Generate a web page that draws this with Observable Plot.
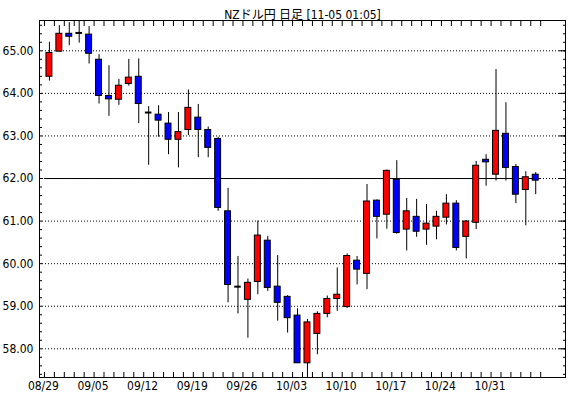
<!DOCTYPE html>
<html><head><meta charset="utf-8">
<script src="https://cdn.jsdelivr.net/npm/d3@7"></script>
<script src="https://cdn.jsdelivr.net/npm/@observablehq/plot@0.6"></script>
<style>body{margin:0;background:#fff}</style>
</head><body><div id="chart"></div>
<script>
const title = "NZドル円 日足 [11-05 01:05]";
const dates = [
  "08/29","08/30","08/31","09/01","09/02",
  "09/05","09/06","09/07","09/08","09/09",
  "09/12","09/13","09/14","09/15","09/16",
  "09/19","09/20","09/21","09/22","09/23",
  "09/26","09/27","09/28","09/29","09/30",
  "10/03","10/04","10/05","10/06","10/07",
  "10/10","10/11","10/12","10/13","10/14",
  "10/17","10/18","10/19","10/20","10/21",
  "10/24","10/25","10/26","10/27","10/28",
  "10/31","11/01","11/02","11/03","11/04"
];
const open = [
  64.39,64.98,65.40,65.42,65.38, 64.79,63.94,63.85,64.22,64.39,
  63.55,63.50,63.29,62.91,63.14, 63.43,63.14,62.93,61.23,59.46,
  59.15,59.57,60.54,59.46,59.22, 58.78,57.66,58.35,58.82,59.17,
  58.98,60.07,59.76,61.48,61.15, 61.97,60.80,61.10,60.80,60.87,
  61.08,61.41,60.63,60.96,62.44, 62.09,63.05,62.27,61.73,62.09
];
const high = [
  65.20,65.59,65.66,65.70,65.57, 64.91,64.65,64.33,64.80,64.81,
  63.69,63.71,63.55,63.55,64.08, 63.74,63.21,62.97,61.77,60.17,
  59.64,61.00,60.64,60.19,59.25, 58.94,58.69,58.87,59.24,59.90,
  60.23,60.17,61.86,61.50,62.20, 62.42,61.53,61.51,61.39,61.23,
  61.62,61.48,61.01,62.40,62.56, 64.56,63.78,62.33,62.16,62.14
];
const low = [
  64.29,64.97,65.12,65.18,64.69, 63.75,63.46,63.72,64.17,63.29,
  62.31,62.97,62.56,62.25,63.01, 62.49,62.49,61.23,59.08,58.82,
  58.25,59.27,59.35,58.65,58.37, 57.66,57.30,57.86,58.73,58.88,
  58.95,59.50,59.39,60.58,60.81, 60.69,60.30,60.62,60.43,60.56,
  60.91,60.30,60.11,60.80,61.82, 61.94,61.94,61.41,60.89,61.62
];
const close = [
  64.95,65.40,65.33,65.42,64.93, 63.94,63.86,64.18,64.37,63.75,
  63.55,63.36,62.91,63.09,63.66, 63.14,62.72,61.31,59.50,59.46,
  59.55,60.66,59.43,59.08,58.72, 57.66,58.62,58.82,59.17,59.27,
  60.18,59.86,61.46,61.10,62.18, 60.72,61.23,60.75,60.94,61.10,
  61.41,60.37,60.99,62.30,62.38, 63.12,62.25,61.62,62.03,61.95
];
const labelDates = ["08/29","09/05","09/12","09/19","09/26","10/03","10/10","10/17","10/24","10/31"];
const yMajor = [58, 59, 60, 61, 62, 63, 64, 65];
const refLevel = 62.00;

const data = dates.map((d, i) => ({i, date: d, open: open[i], high: high[i], low: low[i], close: close[i]}));
const bodies = data.filter(d => d.open !== d.close);
const dojis = data.filter(d => d.open === d.close);
const labelIdx = labelDates.map(d => dates.indexOf(d));
const dayTicks = d3.range(0, dates.length + 1).map(k => k - 0.5);
const yMinor = d3.range(287, 329).map(k => k / 5);
const font = "'Liberation Sans Narrow', 'Arial Narrow', 'DejaVu Sans Condensed', 'Noto Sans CJK JP', sans-serif";

const chart = Plot.plot({
  width: 570,
  height: 398,
  marginLeft: 39,
  marginRight: 5,
  marginTop: 20,
  marginBottom: 21,
  style: {fontFamily: font, fontSize: "12px", background: "white", color: "black"},
  x: {domain: [-1, 52]},
  y: {domain: [57.326, 65.712]},
  color: {type: "identity"},
  marks: [
    Plot.ruleY(yMajor, {stroke: "black", strokeDasharray: "1,2"}),
    Plot.ruleY([refLevel], {x1: dayTicks[0], x2: dayTicks[dayTicks.length - 1], stroke: "black"}),
    Plot.ruleX(data, {x: "i", y1: "low", y2: "high", stroke: "black", clip: true}),
    Plot.rect(bodies, {
      x1: d => d.i - 0.3, x2: d => d.i + 0.3, y1: "open", y2: "close",
      fill: d => d.close > d.open ? "#ff0000" : "#0000ff",
      stroke: "black", strokeWidth: 1, clip: true
    }),
    Plot.ruleY(dojis, {y: "close", x1: d => d.i - 0.33, x2: d => d.i + 0.33, stroke: "black", strokeWidth: 2}),
    Plot.frame({stroke: "black"}),
    Plot.axisX({anchor: "bottom", ticks: dayTicks, tickSize: -5, tickFormat: () => "", label: null}),
    Plot.axisX({anchor: "top", ticks: dayTicks, tickSize: -5, tickFormat: () => "", label: null}),
    Plot.axisX({anchor: "bottom", ticks: labelIdx, tickSize: 0, tickPadding: 4, dx: -6, tickFormat: i => dates[i], label: null, fontSize: 12}),
    Plot.axisY({anchor: "left", ticks: yMinor, tickSize: -3, tickFormat: () => "", label: null}),
    Plot.axisY({anchor: "right", ticks: yMinor, tickSize: -3, tickFormat: () => "", label: null}),
    Plot.axisY({anchor: "right", ticks: yMajor, tickSize: -7, tickFormat: () => "", label: null}),
    Plot.axisY({anchor: "left", ticks: yMajor, tickSize: 0, tickPadding: 6, tickFormat: d => d.toFixed(2), label: null, fontSize: 12}),
    Plot.text([title], {frameAnchor: "top", dy: -10, fontSize: 12, fill: "black"})
  ]
});
document.getElementById("chart").appendChild(chart);
</script>
</body></html>
